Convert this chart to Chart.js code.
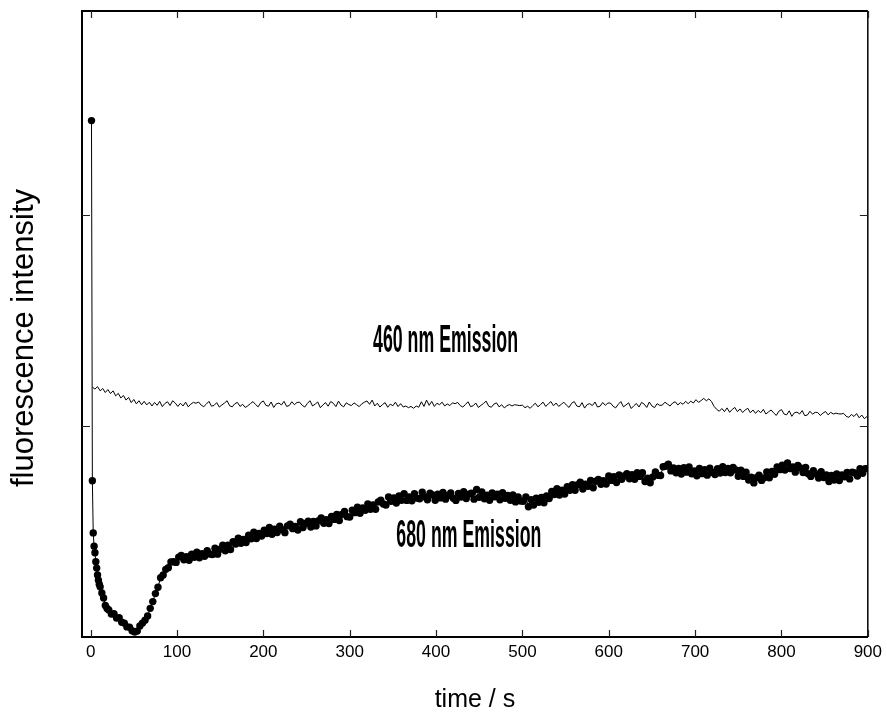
<!DOCTYPE html>
<html>
<head>
<meta charset="utf-8">
<script src="https://cdn.jsdelivr.net/npm/chart.js@4.4.1/dist/chart.umd.min.js"></script>
<style>
  html, body { margin: 0; padding: 0; background: #fff; }
  canvas { display: block; }
</style>
</head>
<body>
<canvas id="chart" width="887" height="717"></canvas>
<script>
// time axis ticks (s) and the unlabeled intensity ticks
const timeTicks = [0, 100, 200, 300, 400, 500, 600, 700, 800, 900];
const intensityTicks = [1, 2];

// 460 nm trace: one reading every 3 s, first one at 2 s
const start460 = 2;
const step460 = 3;
const emission460 = [
  1.186, 1.176, 1.188, 1.168, 1.179, 1.160, 1.174, 1.155, 1.168, 1.144, 1.156, 1.134, 1.146, 1.124, 1.137, 1.112, 1.127, 1.106, 1.121, 1.102,
  1.118, 1.101, 1.114, 1.096, 1.113, 1.099, 1.118, 1.093, 1.108, 1.116, 1.098, 1.121, 1.110, 1.094, 1.109, 1.096, 1.114, 1.092, 1.105, 1.113,
  1.109, 1.115, 1.100, 1.093, 1.105, 1.118, 1.095, 1.099, 1.112, 1.091, 1.101, 1.110, 1.121, 1.097, 1.092, 1.107, 1.113, 1.094, 1.104, 1.089,
  1.097, 1.107, 1.117, 1.103, 1.092, 1.112, 1.120, 1.099, 1.095, 1.115, 1.089, 1.106, 1.110, 1.101, 1.118, 1.094, 1.098, 1.116, 1.102, 1.113,
  1.114, 1.099, 1.091, 1.108, 1.121, 1.096, 1.105, 1.115, 1.088, 1.101, 1.112, 1.095, 1.117, 1.109, 1.093, 1.119, 1.100, 1.092, 1.111, 1.103,
  1.098, 1.111, 1.102, 1.093, 1.106, 1.114, 1.120, 1.104, 1.124, 1.096, 1.109, 1.091, 1.103, 1.112, 1.090, 1.105, 1.097, 1.114, 1.093, 1.107,
  1.091, 1.096, 1.088, 1.094, 1.085, 1.096, 1.090, 1.116, 1.094, 1.124, 1.099, 1.118, 1.094, 1.109, 1.102, 1.114, 1.096, 1.106, 1.098, 1.111,
  1.107, 1.113, 1.098, 1.091, 1.103, 1.116, 1.093, 1.097, 1.110, 1.089, 1.099, 1.108, 1.119, 1.095, 1.090, 1.105, 1.111, 1.092, 1.102, 1.087,
  1.097, 1.103, 1.096, 1.102, 1.100, 1.098, 1.100, 1.088, 1.095, 1.085, 1.098, 1.109, 1.092, 1.103, 1.114, 1.094, 1.106, 1.117, 1.097, 1.110,
  1.094, 1.104, 1.114, 1.100, 1.089, 1.109, 1.117, 1.096, 1.092, 1.112, 1.086, 1.103, 1.107, 1.098, 1.115, 1.091, 1.095, 1.113, 1.099, 1.110,
  1.110, 1.095, 1.087, 1.104, 1.117, 1.092, 1.101, 1.111, 1.084, 1.097, 1.108, 1.091, 1.113, 1.105, 1.089, 1.115, 1.096, 1.088, 1.107, 1.099,
  1.100, 1.114, 1.105, 1.096, 1.110, 1.116, 1.101, 1.112, 1.104, 1.118, 1.107, 1.119, 1.110, 1.126, 1.113, 1.122, 1.132, 1.121, 1.130, 1.117,
  1.094, 1.080, 1.071, 1.084, 1.069, 1.087, 1.066, 1.080, 1.089, 1.069, 1.082, 1.065, 1.077, 1.085, 1.064, 1.077, 1.061, 1.075, 1.064, 1.080,
  1.058, 1.068, 1.077, 1.063, 1.051, 1.071, 1.079, 1.058, 1.054, 1.073, 1.047, 1.064, 1.067, 1.058, 1.074, 1.050, 1.053, 1.071, 1.057, 1.066,
  1.065, 1.051, 1.062, 1.070, 1.054, 1.066, 1.058, 1.062, 1.059, 1.058, 1.061, 1.047, 1.042, 1.056, 1.046, 1.060, 1.040, 1.053, 1.036, 1.046
];

// 680 nm trace: dense readings during the first seconds ...
const tEarly680 = [1, 2, 3, 4, 5, 6, 7, 8, 9, 10, 11, 13, 15, 17, 19];
const early680 = [2.450, 0.741, 0.494, 0.431, 0.400, 0.357, 0.327, 0.294, 0.270, 0.250, 0.238, 0.209, 0.185, 0.150, 0.135];
// ... then one reading every 3 s from 21 s
const start680 = 21;
const step680 = 3;
const emission680 = [
  0.128, 0.109, 0.110, 0.090, 0.091, 0.070, 0.066, 0.048, 0.047, 0.030, 0.024, 0.028, 0.052, 0.066, 0.080, 0.100, 0.136, 0.168, 0.206, 0.236,
  0.281, 0.294, 0.321, 0.329, 0.356, 0.357, 0.354, 0.379, 0.387, 0.366, 0.381, 0.364, 0.393, 0.378, 0.402, 0.376, 0.395, 0.383, 0.409, 0.394,
  0.391, 0.421, 0.393, 0.416, 0.436, 0.409, 0.436, 0.415, 0.452, 0.441, 0.469, 0.445, 0.463, 0.448, 0.483, 0.466, 0.497, 0.467, 0.491, 0.479,
  0.507, 0.491, 0.520, 0.487, 0.512, 0.496, 0.526, 0.509, 0.495, 0.527, 0.535, 0.514, 0.525, 0.508, 0.547, 0.519, 0.539, 0.549, 0.522, 0.548,
  0.527, 0.552, 0.565, 0.540, 0.556, 0.538, 0.572, 0.558, 0.582, 0.553, 0.582, 0.596, 0.571, 0.569, 0.601, 0.590, 0.616, 0.587, 0.612, 0.601,
  0.631, 0.606, 0.627, 0.606, 0.641, 0.649, 0.631, 0.626, 0.664, 0.644, 0.660, 0.636, 0.669, 0.649, 0.680, 0.648, 0.664, 0.646, 0.680, 0.659,
  0.656, 0.687, 0.665, 0.651, 0.682, 0.674, 0.649, 0.678, 0.660, 0.686, 0.654, 0.671, 0.684, 0.658, 0.648, 0.681, 0.664, 0.689, 0.657, 0.678,
  0.682, 0.654, 0.700, 0.663, 0.688, 0.656, 0.673, 0.649, 0.683, 0.665, 0.678, 0.651, 0.685, 0.658, 0.671, 0.649, 0.674, 0.641, 0.665, 0.645,
  0.644, 0.664, 0.618, 0.652, 0.626, 0.659, 0.639, 0.662, 0.637, 0.669, 0.657, 0.690, 0.676, 0.704, 0.674, 0.697, 0.678, 0.713, 0.696, 0.723,
  0.696, 0.722, 0.734, 0.702, 0.725, 0.715, 0.743, 0.708, 0.739, 0.748, 0.725, 0.742, 0.726, 0.764, 0.743, 0.761, 0.733, 0.769, 0.748, 0.764,
  0.775, 0.751, 0.770, 0.748, 0.780, 0.762, 0.779, 0.738, 0.754, 0.732, 0.759, 0.783, 0.767, 0.766, 0.808, 0.810, 0.820, 0.788, 0.802, 0.779,
  0.800, 0.773, 0.803, 0.782, 0.807, 0.774, 0.788, 0.765, 0.800, 0.775, 0.794, 0.768, 0.801, 0.781, 0.771, 0.799, 0.778, 0.808, 0.780, 0.800,
  0.779, 0.805, 0.792, 0.763, 0.791, 0.762, 0.782, 0.745, 0.758, 0.731, 0.756, 0.768, 0.743, 0.755, 0.783, 0.755, 0.786, 0.772, 0.807, 0.794,
  0.815, 0.792, 0.826, 0.799, 0.807, 0.782, 0.814, 0.802, 0.780, 0.805, 0.775, 0.762, 0.789, 0.774, 0.754, 0.784, 0.757, 0.769, 0.738, 0.767,
  0.745, 0.773, 0.742, 0.769, 0.760, 0.781, 0.750, 0.782, 0.778, 0.764, 0.799, 0.777, 0.798, 0.800
];

// in-plot captions, placed in data coordinates
const captionText = ['460 nm Emission', '680 nm Emission'];
const captionX = [411, 438];
const captionY = [1.40, 0.476];

const pts460 = emission460.map((v, i) => ({ x: start460 + i * step460, y: v }));
const pts680 = early680.map((v, i) => ({ x: tEarly680[i], y: v }))
  .concat(emission680.map((v, i) => ({ x: start680 + i * step680, y: v })));

// top/right frame, inward ticks, captions and the vertical axis title
const framePlugin = {
  id: 'frame',
  afterDraw(chart) {
    const { ctx, chartArea: a, scales: { x, y } } = chart;
    ctx.save();
    ctx.strokeStyle = '#000';
    ctx.lineWidth = 2;
    ctx.beginPath();
    ctx.moveTo(a.left - 1, a.top);
    ctx.lineTo(a.right, a.top);
    ctx.stroke();
    ctx.lineWidth = 1.5;
    ctx.beginPath();
    ctx.moveTo(a.right, a.top);
    ctx.lineTo(a.right, a.bottom);
    ctx.stroke();

    ctx.lineWidth = 1.2;
    ctx.strokeStyle = '#222';
    ctx.beginPath();
    timeTicks.forEach(t => {
      const px = Math.round(x.getPixelForValue(t)) + 0.5;
      ctx.moveTo(px, a.bottom);
      ctx.lineTo(px, a.bottom - 7);
      ctx.moveTo(px, a.top);
      ctx.lineTo(px, a.top + 7);
    });
    intensityTicks.forEach(v => {
      const py = Math.round(y.getPixelForValue(v)) + 0.5;
      ctx.moveTo(a.left, py);
      ctx.lineTo(a.left + 8, py);
      ctx.moveTo(a.right, py);
      ctx.lineTo(a.right - 8, py);
    });
    ctx.stroke();

    ctx.fillStyle = '#000';
    ctx.font = 'bold 38px "Liberation Sans Narrow", "Liberation Sans", Arial, sans-serif';
    ctx.textAlign = 'center';
    ctx.textBaseline = 'middle';
    captionText.forEach((s, i) => {
      const k = 145 / ctx.measureText(s).width;
      ctx.save();
      ctx.translate(x.getPixelForValue(captionX[i]), y.getPixelForValue(captionY[i]));
      ctx.scale(k, 1);
      ctx.fillText(s, 0, 0);
      ctx.restore();
    });

    ctx.font = '31px "Liberation Sans", Arial, sans-serif';
    ctx.translate(24, 338);
    ctx.rotate(-Math.PI / 2);
    ctx.fillText('fluorescence intensity', 0, 0);
    ctx.restore();
  }
};

const ctx = document.getElementById('chart').getContext('2d');
const chart = new Chart(ctx, {
  type: 'line',
  data: {
    datasets: [{
      label: '460 nm Emission',
      data: pts460,
      borderColor: '#000',
      borderWidth: 1,
      pointRadius: 0,
      tension: 0
    }, {
      label: '680 nm Emission',
      data: pts680,
      borderColor: '#000',
      borderWidth: 1,
      backgroundColor: '#000',
      pointRadius: 3.7,
      pointBorderWidth: 0,
      pointBackgroundColor: '#000',
      tension: 0
    }]
  },
  options: {
    responsive: false,
    animation: false,
    devicePixelRatio: 1,
    layout: { padding: { left: 0, right: 16, top: 11, bottom: 0 } },
    plugins: {
      legend: { display: false },
      tooltip: { enabled: false }
    },
    scales: {
      x: {
        type: 'linear',
        min: -10,
        max: 900,
        afterFit: s => { s.height = 80; },
        afterBuildTicks: s => { s.ticks = timeTicks.map(v => ({ value: v })); },
        border: { display: true, color: '#000', width: 2 },
        grid: { display: false, drawTicks: false },
        ticks: {
          padding: 5,
          maxRotation: 0,
          autoSkip: false,
          color: '#000',
          font: { family: '"Liberation Sans", Arial, sans-serif', size: 17 }
        },
        title: {
          display: true,
          text: 'time / s',
          color: '#000',
          padding: { top: 0, bottom: 2 },
          font: { family: '"Liberation Sans", Arial, sans-serif', size: 25 }
        }
      },
      y: {
        type: 'linear',
        min: 0,
        max: 2.97,
        afterFit: s => { s.width = 82; },
        border: { display: true, color: '#000', width: 2 },
        grid: { display: false, drawTicks: false },
        ticks: { display: false }
      }
    }
  },
  plugins: [framePlugin]
});
</script>
</body>
</html>
